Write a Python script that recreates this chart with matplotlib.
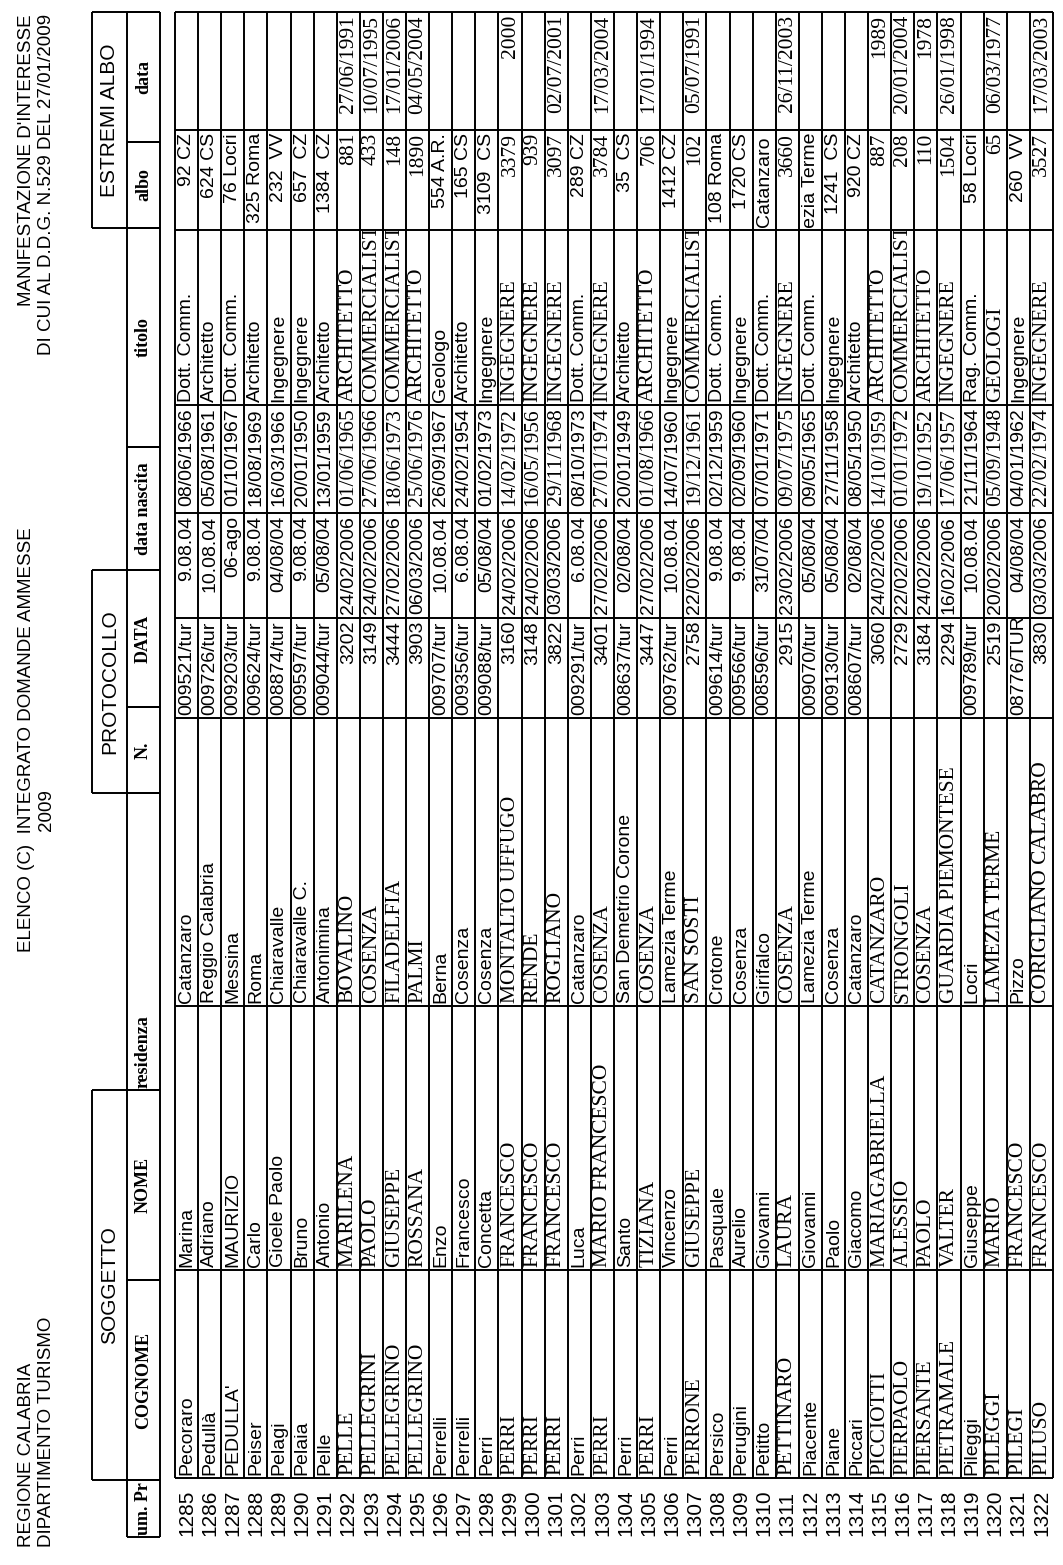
import matplotlib
matplotlib.use("Agg")
import matplotlib.pyplot as plt
from matplotlib.transforms import Bbox, TransformedBbox

# ---------------- table content (one entry per row) ----------------
num = [1285, 1286, 1287, 1288, 1289, 1290, 1291, 1292, 1293, 1294, 1295, 1296, 1297,
       1298, 1299, 1300, 1301, 1302, 1303, 1304, 1305, 1306, 1307, 1308, 1309, 1310,
       1311, 1312, 1313, 1314, 1315, 1316, 1317, 1318, 1319, 1320, 1321, 1322]
cognome = ["Pecoraro", "Pedullà", "PEDULLA'", "Peiser", "Pelagi", "Pelaia", "Pelle",
           "PELLE", "PELLEGRINI", "PELLEGRINO", "PELLEGRINO", "Perrelli", "Perrelli",
           "Perri", "PERRI", "PERRI", "PERRI", "Perri", "PERRI", "Perri", "PERRI", "Perri",
           "PERRONE", "Persico", "Perugini", "Petitto", "PETTINARO", "Piacente", "Piane",
           "Piccari", "PICCIOTTI", "PIERPAOLO", "PIERSANTE", "PIETRAMALE", "Pileggi",
           "PILEGGI", "PILEGI", "PILUSO"]
nome = ["Marina", "Adriano", "MAURIZIO", "Carlo", "Gioele Paolo", "Bruno", "Antonio",
        "MARILENA", "PAOLO", "GIUSEPPE", "ROSSANA", "Enzo", "Francesco", "Concetta",
        "FRANCESCO", "FRANCESCO", "FRANCESCO", "Luca", "MARIO FRANCESCO", "Santo",
        "TIZIANA", "Vincenzo", "GIUSEPPE", "Pasquale", "Aurelio", "Giovanni", "LAURA",
        "Giovanni", "Paolo", "Giacomo", "MARIAGABRIELLA", "ALESSIO", "PAOLO", "VALTER",
        "Giuseppe", "MARIO", "FRANCESCO", "FRANCESCO"]
residenza = ["Catanzaro", "Reggio Calabria", "Messina", "Roma", "Chiaravalle",
             "Chiaravalle C.", "Antonimina", "BOVALINO", "COSENZA", "FILADELFIA", "PALMI",
             "Berna", "Cosenza", "Cosenza", "MONTALTO UFFUGO", "RENDE", "ROGLIANO",
             "Catanzaro", "COSENZA", "San Demetrio Corone", "COSENZA", "Lamezia Terme",
             "SAN SOSTI", "Crotone", "Cosenza", "Girifalco", "COSENZA", "Lamezia Terme",
             "Cosenza", "Catanzaro", "CATANZARO", "STRONGOLI", "COSENZA",
             "GUARDIA PIEMONTESE", "Locri", "LAMEZIA TERME", "Pizzo", "CORIGLIANO CALABRO"]
prot_n = ["009521/tur", "009726/tur", "009203/tur", "009624/tur", "008874/tur",
          "009597/tur", "009044/tur", "3202", "3149", "3444", "3903", "009707/tur",
          "009356/tur", "009088/tur", "3160", "3148", "3822", "009291/tur", "3401",
          "008637/tur", "3447", "009762/tur", "2758", "009614/tur", "009566/tur",
          "008596/tur", "2915", "009070/tur", "009130/tur", "008607/tur", "3060", "2729",
          "3184", "2294", "009789/tur", "2519", "08776/TUR", "3830"]
prot_data = ["9.08.04", "10.08.04", "06-ago", "9.08.04", "04/08/04", "9.08.04",
             "05/08/04", "24/02/2006", "24/02/2006", "27/02/2006", "06/03/2006",
             "10.08.04", "6.08.04", "05/08/04", "24/02/2006", "24/02/2006", "03/03/2006",
             "6.08.04", "27/02/2006", "02/08/04", "27/02/2006", "10.08.04", "22/02/2006",
             "9.08.04", "9.08.04", "31/07/04", "23/02/2006", "05/08/04", "05/08/04",
             "02/08/04", "24/02/2006", "22/02/2006", "24/02/2006", "16/02/2006",
             "10.08.04", "20/02/2006", "04/08/04", "03/03/2006"]
nascita = ["08/06/1966", "05/08/1961", "01/10/1967", "18/08/1969", "16/03/1966",
           "20/01/1950", "13/01/1959", "01/06/1965", "27/06/1966", "18/06/1973",
           "25/06/1976", "26/09/1967", "24/02/1954", "01/02/1973", "14/02/1972",
           "16/05/1956", "29/11/1968", "08/10/1973", "27/01/1974", "20/01/1949",
           "01/08/1966", "14/07/1960", "19/12/1961", "02/12/1959", "02/09/1960",
           "07/01/1971", "09/07/1975", "09/05/1965", "27/11/1958", "08/05/1950",
           "14/10/1959", "01/01/1972", "19/10/1952", "17/06/1957", "21/11/1964",
           "05/09/1948", "04/01/1962", "22/02/1974"]
titolo = ["Dott. Comm.", "Architetto", "Dott. Comm.", "Architetto", "Ingegnere",
          "Ingegnere", "Architetto", "ARCHITETTO", "COMMERCIALISTA", "COMMERCIALISTA",
          "ARCHITETTO", "Geologo", "Architetto", "Ingegnere", "INGEGNERE", "INGEGNERE",
          "INGEGNERE", "Dott. Comm.", "INGEGNERE", "Architetto", "ARCHITETTO",
          "Ingegnere", "COMMERCIALISTA", "Dott. Comm.", "Ingegnere", "Dott. Comm.",
          "INGEGNERE", "Dott. Comm.", "Ingegnere", "Architetto", "ARCHITETTO",
          "COMMERCIALISTA", "ARCHITETTO", "INGEGNERE", "Rag. Comm.", "GEOLOGI",
          "Ingegnere", "INGEGNERE"]
albo = ["92 CZ", "624 CS", "76 Locri", "325 Roma", "232  VV", "657  CZ", "1384  CZ",
        "881", "433", "148", "1890", "554 A.R.", "165 CS", "3109  CS", "3379", "939",
        "3097", "289 CZ", "3784", "35  CS", "706", "1412 CZ", "102", "108 Roma",
        "1720 CS", "Catanzaro", "3660", "Lamezia Terme", "1241  CS", "920 CZ", "887",
        "208", "110", "1504", "58 Locri", "65", "260  VV", "3527"]
albo_data = ["", "", "", "", "", "", "", "27/06/1991", "10/07/1995", "17/01/2006",
             "04/05/2004", "", "", "", "2000", "", "02/07/2001", "", "17/03/2004", "",
             "17/01/1994", "", "05/07/1991", "", "", "", "26/11/2003", "", "", "", "1989",
             "20/01/2004", "1978", "26/01/1998", "", "06/03/1977", "", "17/03/2003"]

# ---------------- page layout (image pixels, page is rotated) ----------------
W, H = 1063, 1565
ROW_X0, ROW_X1 = 175, 1053
ROW_H = (ROW_X1 - ROW_X0) / len(num)
# column edges along y, top of image = right side of the page
EDGES = [12, 130, 230, 405, 513, 618, 718, 1006, 1270, 1478]
NUM_Y = 1536
PAD = 3

SANS = "Liberation Sans"
SERIF = "Liberation Serif"
FS_SANS, FS_SERIF = 14, 15.5

fig = plt.figure(figsize=(W / 100, H / 100), dpi=100)
ax = fig.add_axes([0, 0, 1, 1])
ax.set_xlim(0, W)
ax.set_ylim(H, 0)
ax.axis("off")


def cell_text(x, y0, y1, s, align, family, size):
    if not s:
        return
    if align == "left":      # page-left -> bottom of the rotated cell
        y, va = y1 - PAD, "bottom"
    elif align == "right":
        y, va = y0 + PAD, "top"
    else:
        y, va = (y0 + y1) / 2, "center"
    t = ax.text(x, y, s, rotation=90, ha="center", va=va, family=family,
                fontsize=size, color="black")
    clip = TransformedBbox(Bbox.from_extents(x - ROW_H / 2, y0 + 1, x + ROW_H / 2, y1 - 1),
                           ax.transData)
    t.set_clip_box(clip)
    t.set_clip_on(True)


# grid lines of the data block
LW = 1.4
for i in range(len(num) + 1):
    ax.vlines(ROW_X0 + i * ROW_H, EDGES[0], EDGES[-1], color="black", lw=LW)
ax.hlines(EDGES, ROW_X0, ROW_X1, color="black", lw=LW)

# cells
for i in range(len(num)):
    x = ROW_X0 + (i + 0.5) * ROW_H
    batch = "/" not in prot_n[i]

    def fam_txt(s):
        return SERIF if (s.isupper() and num[i] != 1287) else SANS

    fam_num = SERIF if batch else SANS
    cols = [
        (albo_data[i], "right", fam_num),
        (albo[i], "left" if albo[i].isalpha() else "right", fam_num),
        (titolo[i], "left", fam_txt(titolo[i])),
        (nascita[i], "right", fam_num),
        (prot_data[i], "right", SANS),
        (prot_n[i], "right" if prot_n[i].isdigit() else "left", SANS),
        (residenza[i], "left", fam_txt(residenza[i])),
        (nome[i], "left", fam_txt(nome[i])),
        (cognome[i], "left", fam_txt(cognome[i])),
    ]
    for k, (s, al, fam) in enumerate(cols):
        size = FS_SERIF if fam == SERIF else FS_SANS
        cell_text(x, EDGES[k], EDGES[k + 1], s, al, fam, size)
    ax.text(x, NUM_Y, str(num[i]), rotation=90, ha="center", va="bottom",
            family=SANS, fontsize=15)

# header block
HX0, HX1, HX2 = 92, 127, 160
ax.vlines([HX1, HX2], 12, 1537, color="black", lw=LW)
groups = [("ESTREMI ALBO", 12, 228), ("PROTOCOLLO", 570, 793), ("SOGGETTO", 1090, 1480)]
for label, y0, y1 in groups:
    ax.vlines(HX0, y0, y1, color="black", lw=LW)
    ax.hlines([y0, y1], HX0, HX2, color="black", lw=LW)
    ax.text((HX0 + HX1) / 2, (y0 + y1) / 2, label, rotation=90, ha="center",
            va="center", family=SANS, fontsize=15)

subs = [("data", 12, 142), ("albo", 142, 228), ("titolo", 228, 447),
        ("data nascita", 447, 570), ("DATA", 570, 707), ("N.", 707, 793),
        ("residenza", 793, 1090), ("NOME", 1090, 1280), ("COGNOME", 1280, 1480),
        ("um. Pr", 1480, 1537)]
for label, y0, y1 in subs:
    ax.hlines([y0, y1], HX1, HX2, color="black", lw=LW)
    if label in ("residenza", "um. Pr"):
        y, va = y1 - 2, "bottom"
    else:
        y, va = (y0 + y1) / 2, "center"
    ax.text((HX1 + HX2) / 2, y, label, rotation=90, ha="center", va=va,
            family=SERIF, fontweight="bold", fontsize=13)

# page titles
ax.text(27, 1547, "REGIONE CALABRIA", rotation=90, ha="center", va="bottom",
        family=SANS, fontsize=13.5)
ax.text(47, 1547, "DIPARTIMENTO TURISMO", rotation=90, ha="center", va="bottom",
        family=SANS, fontsize=13.5)
ax.text(27, 740, "ELENCO (C)  INTEGRATO DOMANDE AMMESSE", rotation=90, ha="center",
        va="center", family=SANS, fontsize=13.5)
ax.text(47, 810, "2009", rotation=90, ha="center", va="center", family=SANS,
        fontsize=13.5)
ax.text(27, 14, "MANIFESTAZIONE D'INTERESSE", rotation=90, ha="center", va="top",
        family=SANS, fontsize=13.5)
ax.text(47, 14, "DI CUI AL D.D.G. N.529 DEL 27/01/2009", rotation=90, ha="center",
        va="top", family=SANS, fontsize=13.5)

fig.savefig("out.png", dpi=100, facecolor="white")
